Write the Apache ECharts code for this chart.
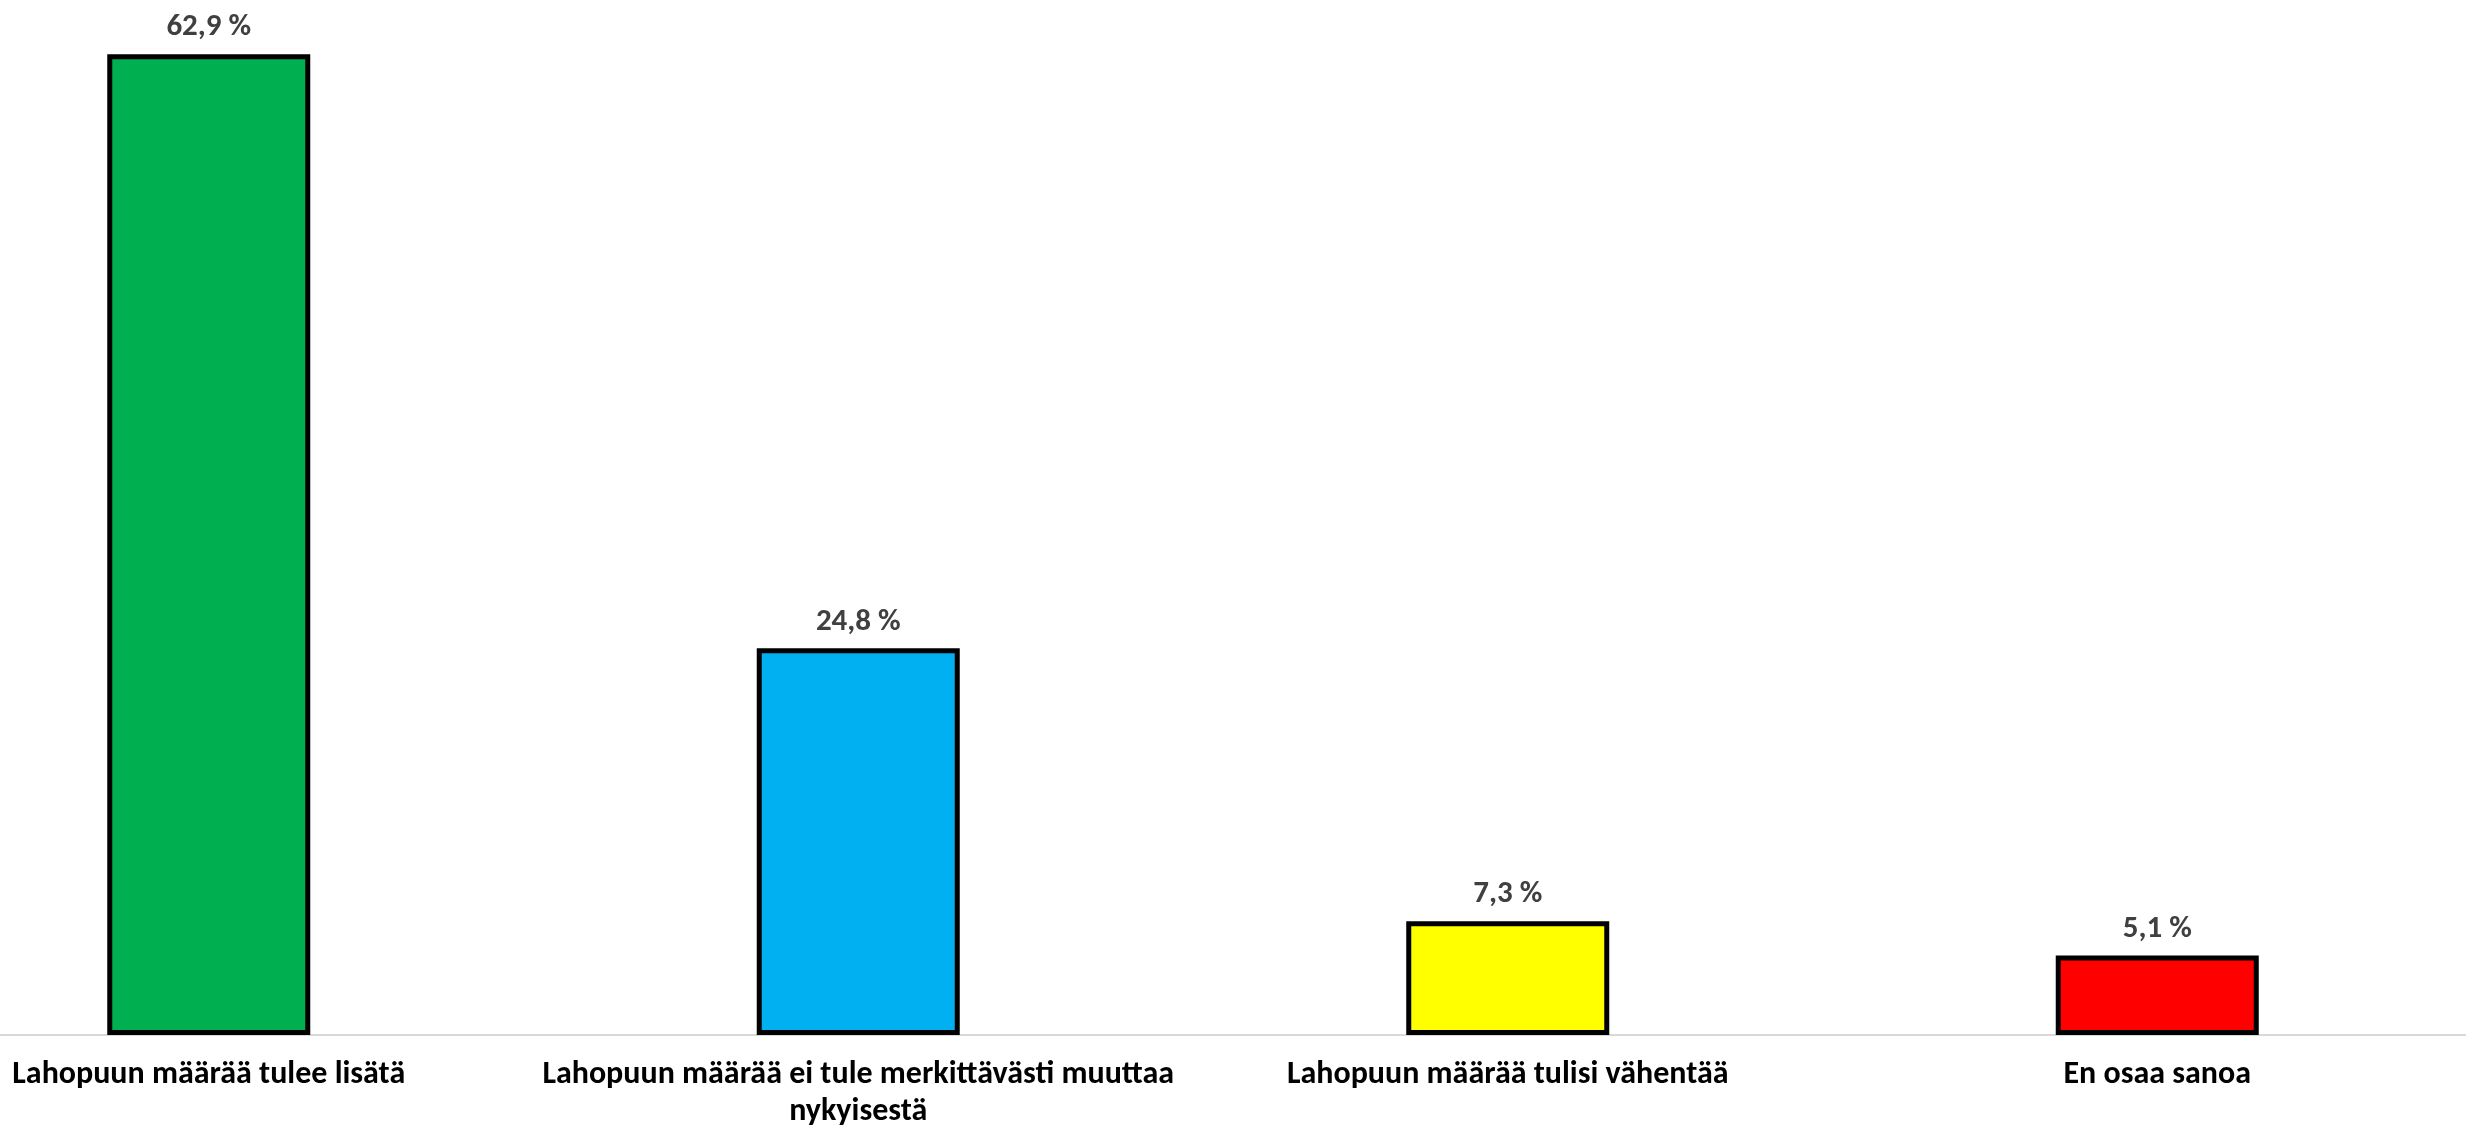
<!DOCTYPE html>
<html>
<head>
<meta charset="utf-8">
<script src="https://cdn.jsdelivr.net/npm/echarts@6/dist/echarts.min.js"></script>
<style>
html,body{margin:0;padding:0;background:#fff;overflow:hidden;width:2466px;height:1131px;position:relative;}
#c{position:absolute;left:-116px;top:0;width:2598px;height:1131px;}
</style>
</head>
<body>
<div id="c"></div>
<script>
const categories = [
  'Lahopuun määrää tulee lisätä',
  'Lahopuun määrää ei tule merkittävästi muuttaa\nnykyisestä',
  'Lahopuun määrää tulisi vähentää',
  'En osaa sanoa'
];
const values = [62.9, 24.8, 7.3, 5.1];
const colors = ['#00B050', '#00B0F0', '#FFFF00', '#FF0000'];

const FONT = 'Carlito, Lato, "Open Sans", sans-serif';
const chart = echarts.init(document.getElementById('c'));
chart.setOption({
  animation: false,
  backgroundColor: '#ffffff',
  grid: { left: 0, right: 0, top: 23, bottom: 96, containLabel: false, outerBoundsMode: 'none' },
  xAxis: {
    type: 'category',
    data: categories,
    axisLine: { show: true, lineStyle: { color: '#D9D9D9', width: 2 } },
    axisTick: { show: false },
    axisLabel: {
      interval: 0,
      color: '#000000',
      fontFamily: FONT,
      fontWeight: 'bold',
      fontSize: 32,
      lineHeight: 37,
      margin: 21
    }
  },
  yAxis: {
    type: 'value',
    min: 0,
    max: 64.9,
    show: false,
    splitLine: { show: false }
  },
  series: [{
    type: 'bar',
    barWidth: 203,
    data: values.map((v, i) => ({
      value: v,
      itemStyle: { color: colors[i] }
    })),
    itemStyle: { borderColor: '#000000', borderWidth: 5 },
    label: {
      show: true,
      position: 'top',
      distance: 11,
      color: '#404040',
      fontFamily: FONT,
      fontWeight: 'bold',
      fontSize: 31,
      formatter: p => p.value.toFixed(1).replace('.', ',') + ' %'
    }
  }]
});
</script>
</body>
</html>
